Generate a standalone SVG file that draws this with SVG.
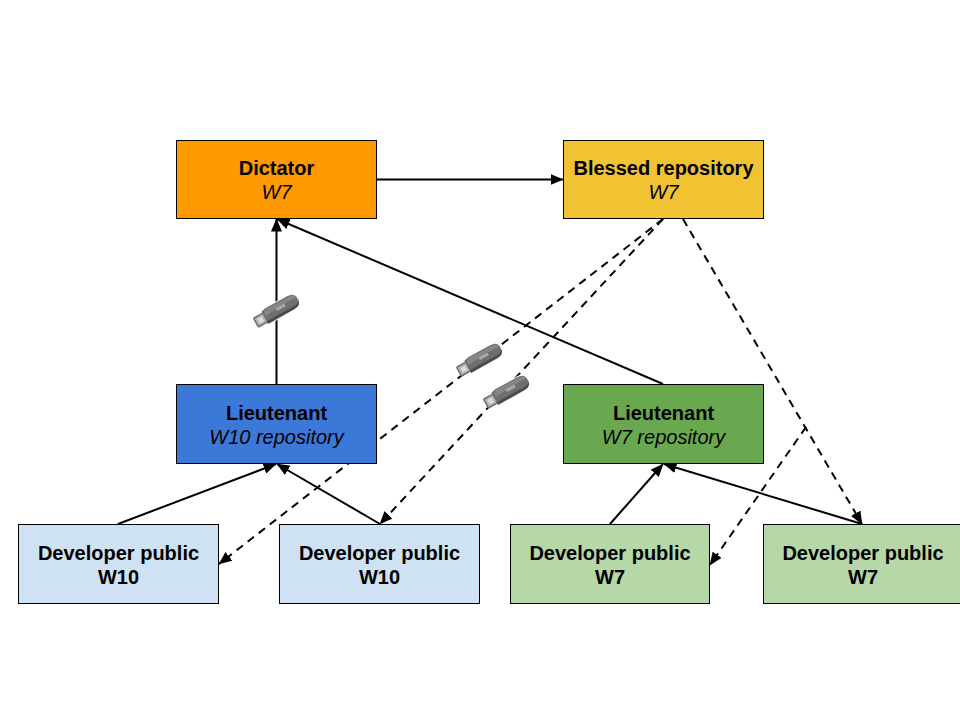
<svg xmlns="http://www.w3.org/2000/svg" width="960" height="720" viewBox="0 0 960 720">
<style>
.n{stroke:#000;stroke-width:1}
text{font-family:"Liberation Sans",Arial,sans-serif;font-size:20px;fill:#000;text-anchor:middle}
.b{font-weight:bold}.i{font-style:italic}
.c{fill:none;stroke:#000;stroke-width:2}
.d{stroke-dasharray:8 6}
</style>
<defs>
<marker id="a" markerUnits="userSpaceOnUse" markerWidth="13" markerHeight="11" refX="12.500" refY="5.500" orient="auto" viewBox="0 0 13 11"><path d="M0 0L13 5.500L0 11z" fill="#000"/></marker>
<symbol id="usb" overflow="visible">
<g transform="rotate(-29)">
<path d="M-13-9H17Q26-9 26 0Q26 8 17 8H-13z" fill="#fff"/>
<rect x="-24" y="-5" width="11" height="10" rx="1" fill="#b4b4b4" stroke="#6f6f6f" stroke-width="1.500"/>
<rect x="-21" y="-2.500" width="5" height="5" fill="#dcdcdc"/>
<path d="M-14-7L-9-8H16Q24-8 24-1Q24 6 16 6H-9L-14 5z" fill="#6f6f6f"/>
<path d="M-12-6L-8-7H17Q23-7 23-2Q14-4-12-1z" fill="#858585"/>
<path d="M-14 4H18Q23 4 24 0Q24 7 16 7H-14z" fill="#4b4b4b"/>
<path d="M0-3H10V0H0z" fill="#a8a8a8"/>
</g>
</symbol>
</defs>
<rect width="960" height="720" fill="#fff"/>
<g id="connectors">
<path class="c" marker-end="url(#a)" d="M377 179.500H563"/>
<path class="c" marker-end="url(#a)" d="M276.500 384V219"/>
<path class="c" marker-end="url(#a)" d="M663 384L277 219"/>
<path class="c" marker-end="url(#a)" d="M118 524L276 464"/>
<path class="c" marker-end="url(#a)" d="M380 524L277 464"/>
<path class="c" marker-end="url(#a)" d="M610 524L663 464"/>
<path class="c" marker-end="url(#a)" d="M862 524L664 464"/>
<path class="c d" marker-end="url(#a)" d="M663 219L219 564"/>
<path class="c d" marker-end="url(#a)" d="M663 219L380 524"/>
<path class="c d" marker-end="url(#a)" d="M683 219L862 524"/>
<path class="c d" marker-end="url(#a)" d="M806 427L710 565"/>
</g>
<g id="usb1"><use href="#usb" x="277" y="311"/></g>
<g id="usb2"><use href="#usb" x="480" y="360"/></g>
<g id="usb3"><use href="#usb" x="507" y="392"/></g>
<g id="dictator"><rect class="n" x="176.500" y="140.500" width="200" height="78" fill="#ff9900"/><text class="b" x="276.500" y="175">Dictator</text><text class="i" x="276.500" y="199">W7</text></g>
<g id="blessed"><rect class="n" x="563.500" y="140.500" width="200" height="78" fill="#f1c232"/><text class="b" x="663.500" y="175">Blessed repository</text><text class="i" x="663.500" y="199">W7</text></g>
<g id="lieutenant-w10"><rect class="n" x="176.500" y="384.500" width="200" height="79" fill="#3c78d8"/><text class="b" x="276.500" y="420">Lieutenant</text><text class="i" x="276.500" y="444">W10 repository</text></g>
<g id="lieutenant-w7"><rect class="n" x="563.500" y="384.500" width="200" height="79" fill="#6aa84f"/><text class="b" x="663.500" y="420">Lieutenant</text><text class="i" x="663.500" y="444">W7 repository</text></g>
<g id="dev1"><rect class="n" x="18.500" y="524.500" width="200" height="79" fill="#cfe2f3"/><text class="b" x="118.500" y="560">Developer public</text><text class="b" x="118.500" y="584">W10</text></g>
<g id="dev2"><rect class="n" x="279.500" y="524.500" width="200" height="79" fill="#cfe2f3"/><text class="b" x="379.500" y="560">Developer public</text><text class="b" x="379.500" y="584">W10</text></g>
<g id="dev3"><rect class="n" x="510.500" y="524.500" width="199" height="79" fill="#b6d7a8"/><text class="b" x="610" y="560">Developer public</text><text class="b" x="610" y="584">W7</text></g>
<g id="dev4"><rect class="n" x="763.500" y="524.500" width="200" height="79" fill="#b6d7a8"/><text class="b" x="863" y="560">Developer public</text><text class="b" x="863" y="584">W7</text></g>
</svg>
